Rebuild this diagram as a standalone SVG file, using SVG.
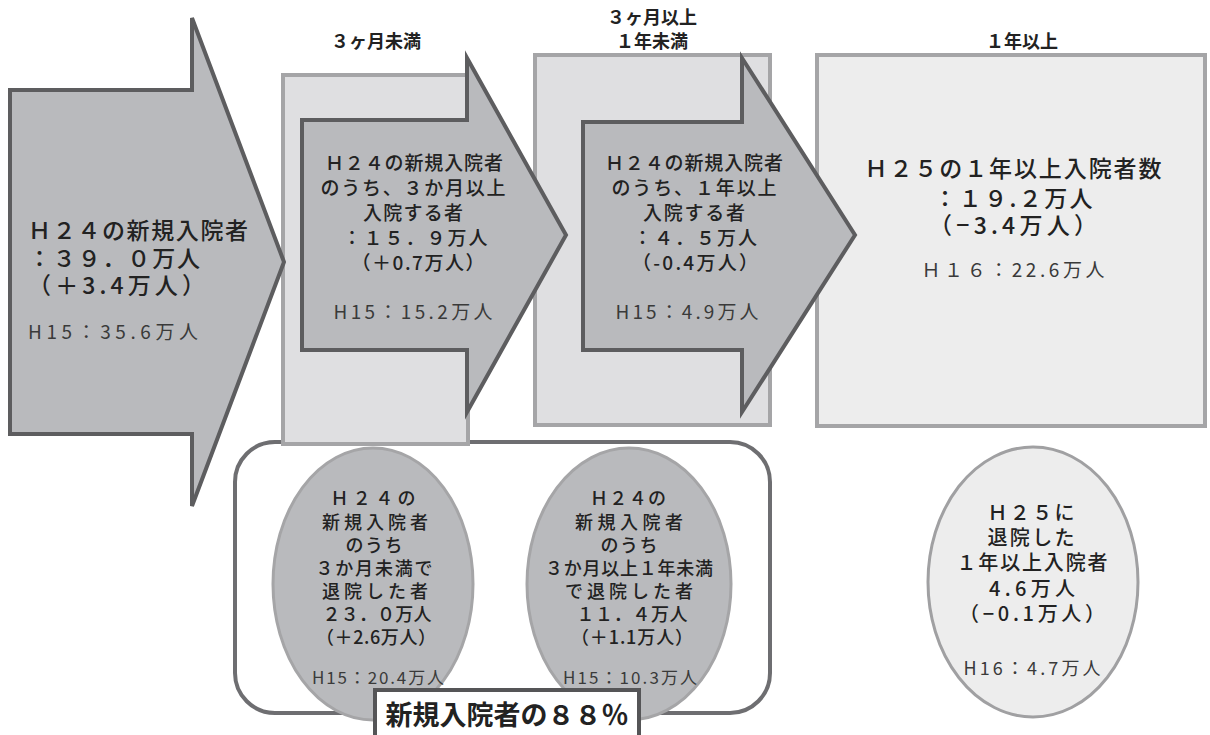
<svg xmlns="http://www.w3.org/2000/svg" width="1210" height="735" viewBox="0 0 1210 735">
<style>
text{font-family:"Noto Sans CJK JP","Noto Sans",sans-serif;fill:#222;text-anchor:middle}
.hd{font-size:18px;font-weight:700}
.big{font-size:23px;font-weight:500}
.mid{font-size:19px;font-weight:500}
.sm{font-size:18px;font-weight:500}
.e3{font-size:20px;font-weight:500}
.ref{font-weight:400;fill:#3a3a3a}
.box{fill:#dfdfe1;stroke:#a5a5a7;stroke-width:4}
.box4{fill:#ededed;stroke:#a5a5a7;stroke-width:4}
.arr{fill:#b9babd;stroke:#5d5d5f;stroke-width:4;stroke-linejoin:miter}
.ell{fill:#b9babd;stroke:#a5a5a7;stroke-width:3}
.ell3{fill:#ededed;stroke:#a0a0a2;stroke-width:3}
</style>
<rect width="1210" height="735" fill="#fff"/>

<g id="headers">
<text class="hd" x="376" y="48">３ヶ月未満</text>
<text class="hd" x="652" y="24">３ヶ月以上</text>
<text class="hd" x="652" y="48">１年未満</text>
<text class="hd" x="1022" y="48">１年以上</text>
</g>

<g id="discharged-group">
<rect x="235" y="442" width="535" height="271" rx="40" ry="40" fill="#fff" stroke="#6e6e71" stroke-width="4"/>
</g>

<g id="box-3m">
<rect class="box" x="283" y="75" width="185" height="369"/>
</g>
<g id="box-3m-1y">
<rect class="box" x="535" y="55" width="235" height="370"/>
</g>
<g id="box-1y">
<rect class="box4" x="817" y="55" width="388" height="371"/>
<text class="big" x="1013" y="177" textLength="297" lengthAdjust="spacing">Ｈ２５の１年以上入院者数</text>
<text class="big" x="1013" y="207" textLength="159" lengthAdjust="spacing">：１９.２万人</text>
<text class="big" x="1013" y="234" textLength="168" lengthAdjust="spacing">（−3.4万人）</text>
<text class="mid ref" x="1013" y="277" textLength="183" lengthAdjust="spacing">Ｈ１６：22.6万人</text>
</g>

<g id="arrow-new">
<polygon class="arr" points="10,90 192,90 192,18 284,262 192,506 192,434 10,434"/>
<text class="big" x="28" y="239" style="text-anchor:start" textLength="220" lengthAdjust="spacing">Ｈ２４の新規入院者</text>
<text class="big" x="28" y="267" style="text-anchor:start" textLength="172" lengthAdjust="spacing">：３９．０万人</text>
<text class="big" x="28" y="294" style="text-anchor:start" textLength="177" lengthAdjust="spacing">（＋3.4万人）</text>
<text class="mid ref" x="28" y="339" style="text-anchor:start" textLength="170" lengthAdjust="spacing">H15：35.6万人</text>
</g>

<g id="arrow-3m">
<polygon class="arr" points="302,120 467,120 467,58 566,235 467,412 467,350 302,350"/>
<text class="mid" x="414" y="170" textLength="178" lengthAdjust="spacing">Ｈ２４の新規入院者</text>
<text class="mid" x="413" y="195" textLength="185" lengthAdjust="spacing">のうち、３か月以上</text>
<text class="mid" x="413" y="220" textLength="100" lengthAdjust="spacing">入院する者</text>
<text class="mid" x="415" y="245" textLength="145" lengthAdjust="spacing">：１５．９万人</text>
<text class="mid" x="418" y="270" textLength="133" lengthAdjust="spacing">（＋0.7万人）</text>
<text class="mid ref" x="413" y="319" textLength="159" lengthAdjust="spacing">H15：15.2万人</text>
</g>

<g id="arrow-1y">
<polygon class="arr" points="583,122 742,122 742,58 855,235 742,412 742,350 583,350"/>
<text class="mid" x="694" y="170" textLength="178" lengthAdjust="spacing">Ｈ２４の新規入院者</text>
<text class="mid" x="694" y="195" textLength="165" lengthAdjust="spacing">のうち、１年以上</text>
<text class="mid" x="694" y="220" textLength="102" lengthAdjust="spacing">入院する者</text>
<text class="mid" x="695" y="245" textLength="124" lengthAdjust="spacing">：４．５万人</text>
<text class="mid" x="695" y="270" textLength="126" lengthAdjust="spacing">（-0.4万人）</text>
<text class="mid ref" x="687" y="319" textLength="143" lengthAdjust="spacing">H15：4.9万人</text>
</g>

<g id="ellipse-under-3m">
<ellipse class="ell" cx="373" cy="584" rx="100" ry="136"/>
<text class="sm" x="373" y="505" textLength="85" lengthAdjust="spacing">Ｈ２４の</text>
<text class="sm" x="375" y="529" textLength="106" lengthAdjust="spacing">新規入院者</text>
<text class="sm" x="374" y="552" textLength="57" lengthAdjust="spacing">のうち</text>
<text class="sm" x="374" y="575" textLength="117" lengthAdjust="spacing">３か月未満で</text>
<text class="sm" x="375" y="598" textLength="106" lengthAdjust="spacing">退院した者</text>
<text class="sm" x="377" y="621" textLength="109" lengthAdjust="spacing">２３．０万人</text>
<text class="sm" x="376" y="644" textLength="120" lengthAdjust="spacing">（＋2.6万人）</text>
<text class="sm ref" x="378" y="684" style="font-size:17px" textLength="132" lengthAdjust="spacing">H15：20.4万人</text>
</g>

<g id="ellipse-3m-1y">
<ellipse class="ell" cx="629" cy="584" rx="102" ry="136"/>
<text class="sm" x="628" y="505" textLength="76" lengthAdjust="spacing">Ｈ２４の</text>
<text class="sm" x="629" y="529" textLength="108" lengthAdjust="spacing">新規入院者</text>
<text class="sm" x="629" y="552" textLength="57" lengthAdjust="spacing">のうち</text>
<text class="sm" x="629" y="575" textLength="168" lengthAdjust="spacing">３か月以上１年未満</text>
<text class="sm" x="629" y="598" textLength="128" lengthAdjust="spacing">で退院した者</text>
<text class="sm" x="632" y="621" textLength="111" lengthAdjust="spacing">１１．４万人</text>
<text class="sm" x="632" y="644" textLength="122" lengthAdjust="spacing">（＋1.1万人）</text>
<text class="sm ref" x="630" y="684" style="font-size:17px" textLength="134" lengthAdjust="spacing">H15：10.3万人</text>
</g>

<g id="ellipse-1y">
<ellipse class="ell3" cx="1033" cy="582" rx="105" ry="135"/>
<text class="e3" x="1031" y="520" textLength="87" lengthAdjust="spacing">Ｈ２５に</text>
<text class="e3" x="1031" y="545" textLength="87" lengthAdjust="spacing">退院した</text>
<text class="e3" x="1032" y="570" textLength="151" lengthAdjust="spacing">１年以上入院者</text>
<text class="e3" x="1032" y="596" textLength="86" lengthAdjust="spacing">4.6万人</text>
<text class="e3" x="1032" y="621" textLength="146" lengthAdjust="spacing">（−0.1万人）</text>
<text class="sm ref" x="1032" y="675" textLength="137" lengthAdjust="spacing">H16：4.7万人</text>
</g>

<g id="label-88">
<rect x="375" y="690" width="264" height="60" fill="#fff" stroke="#555557" stroke-width="4"/>
<text x="507" y="725" style="font-size:27px;font-weight:700">新規入院者の８８％</text>
</g>

<g id="connectors"/>
</svg>
